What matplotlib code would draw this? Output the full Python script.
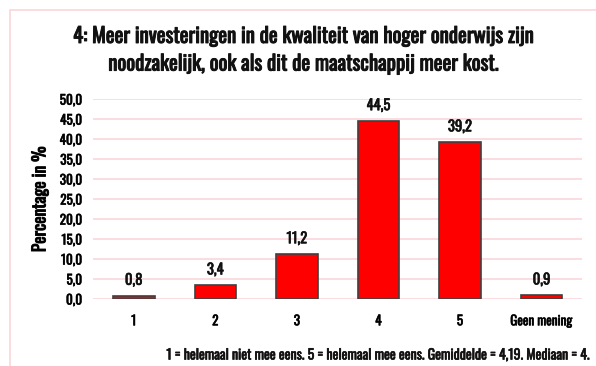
import matplotlib.pyplot as plt
import matplotlib.patheffects as pe
from matplotlib.patches import Rectangle
from matplotlib.text import Text

# Antwoorden en percentages
categories = ['1', '2', '3', '4', '5', 'Geen mening']
percentages = [0.8, 3.4, 11.2, 44.5, 39.2, 0.9]
yticks = [0, 5, 10, 15, 20, 25, 30, 35, 40, 45, 50]

plt.rcParams['font.family'] = ['Oswald', 'DejaVu Sans']
plt.rcParams['text.color'] = '#111111'

fig = plt.figure(figsize=(5.96, 3.66), dpi=100)
fig.patch.set_facecolor('white')

# roze kader rond de grafiek
fig.patches.append(Rectangle((10 / 596, -0.1), 1.2, 1 - 10 / 366 + 0.1,
                             transform=fig.transFigure, fill=False,
                             edgecolor='#fbd5da', linewidth=1.2))

ax = fig.add_axes([0.156, 0.183, 0.821, 0.546])
x = range(len(categories))
ax.bar(x, percentages, width=0.51, color='#ff0000', edgecolor='#404040', linewidth=1.2, zorder=3)
for i, v in zip(x, percentages):
    ax.text(i, v + 2.0, f'{v:.1f}'.replace('.', ','), ha='center', va='bottom', fontsize=10.5)

ax.set_xlim(-0.5, 5.5)
ax.set_ylim(0, 50)
ax.set_yticks(yticks)
ax.set_yticklabels([f'{t:.1f}'.replace('.', ',') for t in yticks], fontsize=9.5)
ax.set_xticks(list(x))
ax.set_xticklabels(categories, fontsize=9.5)
ax.tick_params(length=0, pad=8)
ax.tick_params(axis='x', pad=11)
ax.grid(axis='y', color='#fbd5da', linewidth=1.2, zorder=0)
for s in ax.spines.values():
    s.set_visible(False)

ax.set_ylabel('Percentage in %', fontsize=12.5, labelpad=8)

fig.text(0.508, 0.864, '4: Meer investeringen in de kwaliteit van hoger onderwijs zijn\n'
         'noodzakelijk, ook als dit de maatschappij meer kost.',
         ha='center', va='center', fontsize=15, linespacing=1.45)
fig.text(0.987, 0.03, '1 = helemaal niet mee eens. 5 = helemaal mee eens. Gemiddelde = 4,19. Mediaan = 4.',
         ha='right', va='center', fontsize=10)

# alle tekst wat dikker maken
for t in fig.findobj(Text):
    lw = 0.7 if t.get_fontsize() > 12 else 0.45
    t.set_path_effects([pe.withStroke(linewidth=lw, foreground='#111111')])

fig.savefig('out.png', dpi=100)
